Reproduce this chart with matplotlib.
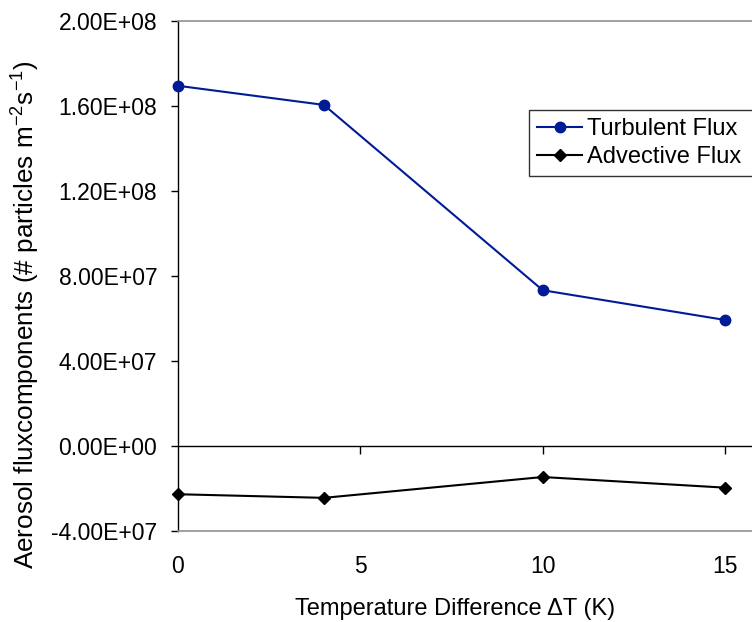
import matplotlib.pyplot as plt

plt.rcParams['font.family'] = ['Liberation Sans', 'DejaVu Sans']
plt.rcParams['mathtext.fontset'] = 'custom'
plt.rcParams['mathtext.rm'] = 'Liberation Sans'

# data
delta_t = [0, 4, 10, 15]
turbulent = [1.695e8, 1.605e8, 7.33e7, 5.93e7]
advective = [-2.27e7, -2.44e7, -1.46e7, -1.96e7]
y_ticks = [-4e7, 0, 4e7, 8e7, 1.2e8, 1.6e8, 2e8]
x_ticks = [0, 5, 10, 15]

fig = plt.figure(figsize=(7.52, 6.22), dpi=100)
ax = fig.add_axes([0.2367, 0.1463, 0.776, 0.82])

ax.plot(delta_t, turbulent, color='#001B96', lw=1.5, marker='o', ms=7.5,
        label='Turbulent Flux', clip_on=False, zorder=4)
ax.plot(delta_t, advective, color='black', lw=1.5, marker='D', ms=6.5,
        label='Advective Flux', clip_on=False, zorder=4)

ax.set_xlim(0, 16)
ax.set_ylim(-4e7, 2e8)
ax.set_yticks(y_ticks)
ax.set_yticklabels([f'{v:.2E}' for v in y_ticks])
ax.set_xticks(x_ticks)
ax.tick_params(axis='x', length=0, pad=17, labelsize=16.5)
ax.tick_params(axis='y', length=5, width=1, direction='out', labelsize=16.5, pad=10)

# horizontal axis line crossing at zero, ticks hanging below it
ax.axhline(0, color='black', lw=1, zorder=2)
lo, hi = ax.get_ylim()
sec = ax.secondary_xaxis((0 - lo) / (hi - lo))
sec.set_xticks([5, 10, 15])
sec.tick_params(axis='x', length=6, width=1, direction='out', labelbottom=False)
sec.spines['bottom'].set_visible(False)

for side in ['top', 'bottom', 'right']:
    ax.spines[side].set_color('#909090')
    ax.spines[side].set_linewidth(1.2)
ax.spines['left'].set_color('black')
ax.spines['left'].set_linewidth(1)

fig.text(25 / 752, 1 - 315 / 622, 'Aerosol fluxcomponents (# particles m$^{-2}$s$^{-1}$)',
         rotation=90, ha='center', va='center', fontsize=18.8)
fig.text(455 / 752, 1 - 609 / 622, 'Temperature Difference \u0394T (K)',
         ha='center', va='center', fontsize=17)

leg = fig.legend(loc='upper left', bbox_to_anchor=(529 / 752, 1 - 110 / 622, 0.32, 0),
                 mode='expand', fontsize=17, frameon=True, fancybox=False,
                 edgecolor='black', handlelength=1.9, handletextpad=0.2,
                 labelspacing=0.25, borderpad=0.35, borderaxespad=0)
leg.get_frame().set_linewidth(1)

fig.savefig('out.png', dpi=100)
